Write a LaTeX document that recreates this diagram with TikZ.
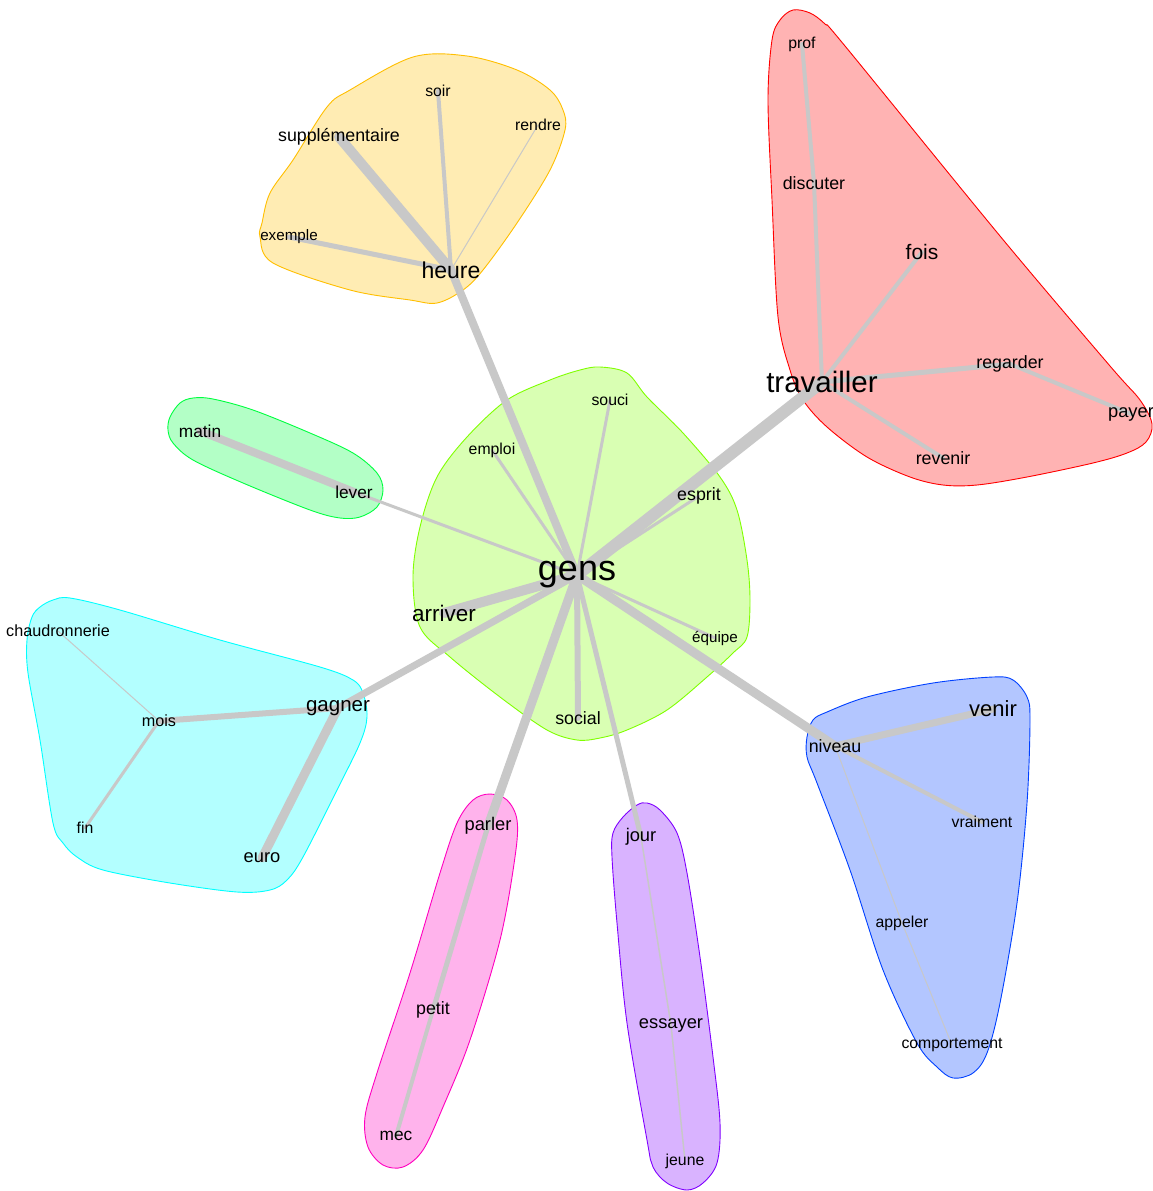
\documentclass[tikz,border=0pt]{standalone}
\usepackage{fontspec}
\setmainfont{Liberation Sans}
\newcommand{\fsz}[1]{\fontsize{#1}{#1}\selectfont}
\definecolor{eg}{RGB}{200,200,200}
\definecolor{bRed}{RGB}{255,0,0}\definecolor{fRed}{RGB}{255,179,179}
\definecolor{bYel}{RGB}{255,191,0}\definecolor{fYel}{RGB}{255,236,179}
\definecolor{bLim}{RGB}{128,255,0}\definecolor{fLim}{RGB}{217,255,179}
\definecolor{bGrn}{RGB}{0,255,64}\definecolor{fGrn}{RGB}{179,255,198}
\definecolor{bCya}{RGB}{0,255,255}\definecolor{fCya}{RGB}{179,255,255}
\definecolor{bBlu}{RGB}{0,64,255}\definecolor{fBlu}{RGB}{179,198,255}
\definecolor{bPur}{RGB}{128,0,255}\definecolor{fPur}{RGB}{217,179,255}
\definecolor{bPnk}{RGB}{255,0,191}\definecolor{fPnk}{RGB}{255,179,236}
\pgfdeclarelayer{hl}\pgfdeclarelayer{el}
\pgfsetlayers{hl,el,main}
\begin{document}
\begin{tikzpicture}[x=1pt,y=-1pt,
  hull/.style={line width=0.9pt, smooth cycle, tension=0.55},
  ed/.style={draw=eg, line cap=round},
  lbl/.style={inner sep=0pt, text=black}]
\useasboundingbox (0,0) rectangle (1153,1191);
\begin{pgfonlayer}{hl}
\fill[white] (0,0) rectangle (1153,1191);
\draw[hull, draw=bYel, fill=fYel] plot coordinates {(413,57) (467,56) (517,70) (550,90) (563,110) (565,130) (550,170) (517,223) (483,270) (463,290) (437,303) (410,300) (350,290) (273,263) (260,237) (262,223) (270,193) (293,160) (327,107) (350,90)};
\draw[hull, draw=bRed, fill=fRed] plot coordinates {(793,10) (810,13) (825,24) (845,46) (1000,236) (1110,366) (1140,400) (1152,424) (1146,442) (1127,453) (1093,463) (1027,477) (977,485) (943,485) (910,477) (867,457) (827,427) (803,400) (790,370) (778,317) (772,200) (768,100) (772,40) (780,20)};
\draw[hull, draw=bLim, fill=fLim] plot coordinates {(600,367) (627,373) (647,397) (683,433) (720,477) (737,510) (747,560) (750,600) (747,637) (733,653) (707,677) (667,710) (627,730) (600,738) (577,740) (547,730) (500,697) (450,657) (420,627) (413,577) (420,527) (437,477) (467,437) (507,400) (550,380) (580,370)};
\draw[hull, draw=bGrn, fill=fGrn] plot coordinates {(170,417) (180,403) (193,398) (213,399) (253,410) (310,433) (353,453) (377,473) (383,490) (377,507) (360,517) (340,518) (310,510) (243,483) (193,460) (173,443) (168,430)};
\draw[hull, draw=bCya, fill=fCya] plot coordinates {(40,607) (53,600) (70,598) (120,610) (220,640) (320,667) (353,680) (363,693) (367,717) (360,743) (337,790) (303,857) (287,880) (270,890) (237,892) (170,883) (103,870) (77,857) (63,843) (53,823) (40,740) (28,673) (27,640) (32,617)};
\draw[hull, draw=bBlu, fill=fBlu] plot coordinates {(807,737) (813,720) (827,712) (867,697) (933,683) (993,677) (1013,680) (1027,697) (1030,720) (1027,803) (1017,903) (1000,1003) (987,1053) (973,1073) (953,1078) (937,1067) (917,1043) (883,970) (850,870) (817,783) (807,757)};
\draw[hull, draw=bPnk, fill=fPnk] plot coordinates {(473,800) (490,794) (507,800) (517,820) (515,857) (500,940) (470,1040) (443,1107) (423,1150) (403,1167) (383,1165) (368,1147) (365,1117) (377,1073) (410,973) (440,873) (457,823)};
\draw[hull, draw=bPur, fill=fPur] plot coordinates {(623,817) (637,805) (647,803) (660,810) (677,833) (687,873) (700,957) (713,1057) (720,1123) (717,1163) (703,1183) (687,1190) (667,1183) (653,1167) (647,1140) (627,1023) (617,923) (612,857) (613,833)};
\end{pgfonlayer}
% vertices
\node[lbl, font=\fsz{36}] (gens) at (577,575) {gens};
\node[lbl, font=\fsz{29.5}] (trav) at (822,382) {travailler};
\node[lbl, font=\fsz{23}] (heure) at (451,270) {heure};
\node[lbl, font=\fsz{17.8}] (supp) at (339,137) {supplémentaire};
\node[lbl, font=\fsz{15.8}] (soir) at (438,91) {soir};
\node[lbl, font=\fsz{15.8}] (rendre) at (538,125) {rendre};
\node[lbl, font=\fsz{15.2}] (exemple) at (289,237) {exemple};
\node[lbl, font=\fsz{15.8}] (prof) at (802,44) {prof};
\node[lbl, font=\fsz{17.8}] (discuter) at (814,183) {discuter};
\node[lbl, font=\fsz{21}] (fois) at (922,252) {fois};
\node[lbl, font=\fsz{17.8}] (regarder) at (1010,364) {regarder};
\node[lbl, font=\fsz{18.3}] (payer) at (1131,414) {payer};
\node[lbl, font=\fsz{17.8}] (revenir) at (943,458) {revenir};
\node[lbl, font=\fsz{15.8}] (souci) at (610,400) {souci};
\node[lbl, font=\fsz{15.8}] (emploi) at (492,450) {emploi};
\node[lbl, font=\fsz{17.8}] (esprit) at (699,496) {esprit};
\node[lbl, font=\fsz{22.5}] (arriver) at (444,613) {arriver};
\node[lbl, font=\fsz{15.2}] (equipe) at (715,638) {équipe};
\node[lbl, font=\fsz{17.8}] (social) at (578,718) {social};
\node[lbl, font=\fsz{17.3}] (matin) at (200,431) {matin};
\node[lbl, font=\fsz{17.3}] (lever) at (354,492) {lever};
\node[lbl, font=\fsz{16.2}] (chaud) at (58,631) {chaudronnerie};
\node[lbl, font=\fsz{16.2}] (mois) at (159,721) {mois};
\node[lbl, font=\fsz{20.5}] (gagner) at (338,708) {gagner};
\node[lbl, font=\fsz{15.8}] (fin) at (85,828) {fin};
\node[lbl, font=\fsz{18.3}] (euro) at (262,858) {euro};
\node[lbl, font=\fsz{22}] (venir) at (993,709) {venir};
\node[lbl, font=\fsz{17.8}] (niveau) at (835,746) {niveau};
\node[lbl, font=\fsz{15.8}] (vraiment) at (982,822) {vraiment};
\node[lbl, font=\fsz{15.8}] (appeler) at (902,923) {appeler};
\node[lbl, font=\fsz{15.8}] (comport) at (952,1045) {comportement};
\node[lbl, font=\fsz{18.3}] (parler) at (488,826) {parler};
\node[lbl, font=\fsz{17.8}] (petit) at (433,1010) {petit};
\node[lbl, font=\fsz{17.3}] (mec) at (396,1136) {mec};
\node[lbl, font=\fsz{18.3}] (jour) at (641,837) {jour};
\node[lbl, font=\fsz{18.3}] (essayer) at (671,1025) {essayer};
\node[lbl, font=\fsz{15.8}] (jeune) at (685,1161) {jeune};
% edges
\begin{pgfonlayer}{el}
\draw[ed, line width=8] (gens.center) -- (heure.center);
\draw[ed, line width=10] (heure.center) -- (supp.center);
\draw[ed, line width=4] (heure.center) -- (soir.center);
\draw[ed, line width=1] (heure.center) -- (rendre.center);
\draw[ed, line width=5] (heure.center) -- (exemple.center);
\draw[ed, line width=12] (gens.center) -- (trav.center);
\draw[ed, line width=4] (trav.center) -- (discuter.center);
\draw[ed, line width=4] (discuter.center) -- (prof.center);
\draw[ed, line width=4] (trav.center) -- (fois.center);
\draw[ed, line width=5] (trav.center) -- (regarder.center);
\draw[ed, line width=4] (regarder.center) -- (payer.center);
\draw[ed, line width=4] (trav.center) -- (revenir.center);
\draw[ed, line width=3] (gens.center) -- (souci.center);
\draw[ed, line width=3] (gens.center) -- (emploi.center);
\draw[ed, line width=3] (gens.center) -- (esprit.center);
\draw[ed, line width=10] (gens.center) -- (arriver.center);
\draw[ed, line width=3] (gens.center) -- (equipe.center);
\draw[ed, line width=6] (gens.center) -- (social.center);
\draw[ed, line width=3] (gens.center) -- (lever.center);
\draw[ed, line width=8] (lever.center) -- (matin.center);
\draw[ed, line width=7] (gens.center) -- (gagner.center);
\draw[ed, line width=6] (gagner.center) -- (mois.center);
\draw[ed, line width=9] (gagner.center) -- (euro.center);
\draw[ed, line width=1] (mois.center) -- (chaud.center);
\draw[ed, line width=3] (mois.center) -- (fin.center);
\draw[ed, line width=9] (gens.center) -- (niveau.center);
\draw[ed, line width=7] (niveau.center) -- (venir.center);
\draw[ed, line width=4] (niveau.center) -- (vraiment.center);
\draw[ed, line width=1] (niveau.center) -- (appeler.center);
\draw[ed, line width=1] (appeler.center) -- (comport.center);
\draw[ed, line width=9] (gens.center) -- (parler.center);
\draw[ed, line width=5] (parler.center) -- (petit.center);
\draw[ed, line width=4] (petit.center) -- (mec.center);
\draw[ed, line width=5] (gens.center) -- (jour.center);
\draw[ed, line width=1.5] (jour.center) -- (essayer.center);
\draw[ed, line width=1.5] (essayer.center) -- (jeune.center);
\end{pgfonlayer}
\end{tikzpicture}
\end{document}
